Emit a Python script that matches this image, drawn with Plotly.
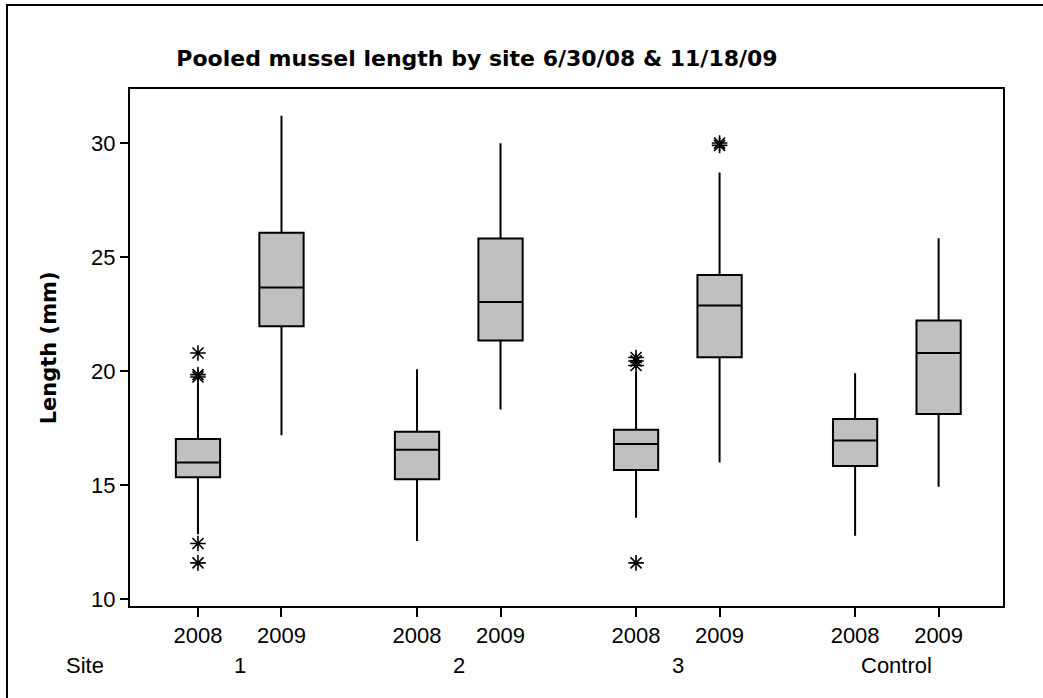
import plotly.graph_objects as go

# ---- data ----
sites = ["1", "2", "3", "Control"]
years = ["2008", "2009"]

# order: (site1,2008),(site1,2009),(site2,2008),...
q1_vals     = [15.35, 21.97, 15.26, 21.35, 15.67, 20.61, 15.85, 18.13]
median_vals = [16.00, 23.67, 16.56, 23.03, 16.81, 22.88, 16.96, 20.80]
q3_vals     = [17.03, 26.07, 17.35, 25.82, 17.43, 24.22, 17.91, 22.22]
low_whisk   = [12.85, 17.19, 12.56, 18.32, 13.58, 16.00, 12.79, 14.94]
high_whisk  = [19.50, 31.20, 20.09, 29.99, 19.95, 28.71, 19.91, 25.83]
outliers = [
    [11.60, 12.45, 19.75, 19.85, 20.80],
    [],
    [],
    [],
    [11.60, 20.25, 20.45, 20.60],
    [29.90, 30.00],
    [],
    [],
]
y_ticks = [10, 15, 20, 25, 30]

# ---- layout constants ----
GROUP_STEP = 2.623
BOX_W = 0.53
FONT = "Liberation Sans"

fig = go.Figure()
positions = []
labels = []
k = 0
for g, site in enumerate(sites):
    for j, yr in enumerate(years):
        pos = g * GROUP_STEP + j
        positions.append(pos)
        labels.append(yr)
        fig.add_trace(go.Box(
            x=[pos], q1=[q1_vals[k]], median=[median_vals[k]], q3=[q3_vals[k]],
            lowerfence=[low_whisk[k]], upperfence=[high_whisk[k]],
            width=BOX_W, whiskerwidth=0, fillcolor="#c0c0c0",
            line=dict(color="black", width=2), showlegend=False,
            hoverinfo="skip",
        ))
        if outliers[k]:
            fig.add_trace(go.Scatter(
                x=[pos] * len(outliers[k]), y=outliers[k], mode="markers",
                marker=dict(symbol="asterisk-open", size=13, color="black",
                            line=dict(color="black", width=1.6)),
                showlegend=False, hoverinfo="skip",
            ))
        k += 1

# group labels
annotations = []
for g, site in enumerate(sites):
    annotations.append(dict(
        x=g * GROUP_STEP + 0.5, y=-0.115, xref="x", yref="paper",
        text=site, showarrow=False, font=dict(family=FONT, size=22, color="black"),
        xanchor="center", yanchor="middle"))
annotations.append(dict(
    x=-0.052, y=-0.115, xref="paper", yref="paper", text="Site", showarrow=False,
    font=dict(family=FONT, size=22, color="black"), xanchor="center", yanchor="middle"))
annotations.append(dict(
    x=-0.093, y=0.5, xref="paper", yref="paper", text="<b>Length (mm)</b>",
    showarrow=False, textangle=-90,
    font=dict(family="DejaVu Sans", size=21, color="black"),
    xanchor="center", yanchor="middle"))

fig.update_layout(
    width=1043, height=698,
    margin=dict(l=130, r=40, t=89, b=92),
    paper_bgcolor="white", plot_bgcolor="white",
    title=dict(text="<b>Pooled mussel length by site 6/30/08 &amp; 11/18/09</b>",
               x=477 / 1043, xref="container", xanchor="center",
               y=1 - 58 / 698, yref="container", yanchor="middle",
               font=dict(family="DejaVu Sans", size=22, color="black")),
    xaxis=dict(range=[-0.814, 9.64], tickvals=positions, ticktext=labels,
               ticks="outside", ticklen=9, tickwidth=2, tickcolor="black",
               showline=True, linecolor="black", linewidth=2, mirror=True,
               showgrid=False, zeroline=False,
               tickfont=dict(family=FONT, size=22, color="black")),
    yaxis=dict(range=[9.71, 32.37], tickvals=y_ticks,
               ticks="outside", ticklen=8, tickwidth=2, tickcolor="black",
               showline=True, linecolor="black", linewidth=2, mirror=True,
               showgrid=False, zeroline=False,
               tickfont=dict(family=FONT, size=22, color="black")),
    annotations=annotations,
    shapes=[
        dict(type="path", xref="paper", yref="paper",
             path="M -0.1409,-0.4 L -0.1409,1.1626 L 1.2,1.1626",
             line=dict(color="black", width=2), fillcolor="rgba(0,0,0,0)"),
    ],
)

fig.write_html("out.html",
               config={"displayModeBar": False},
               post_script="document.body.style.margin='0';document.body.style.overflow='hidden';")
